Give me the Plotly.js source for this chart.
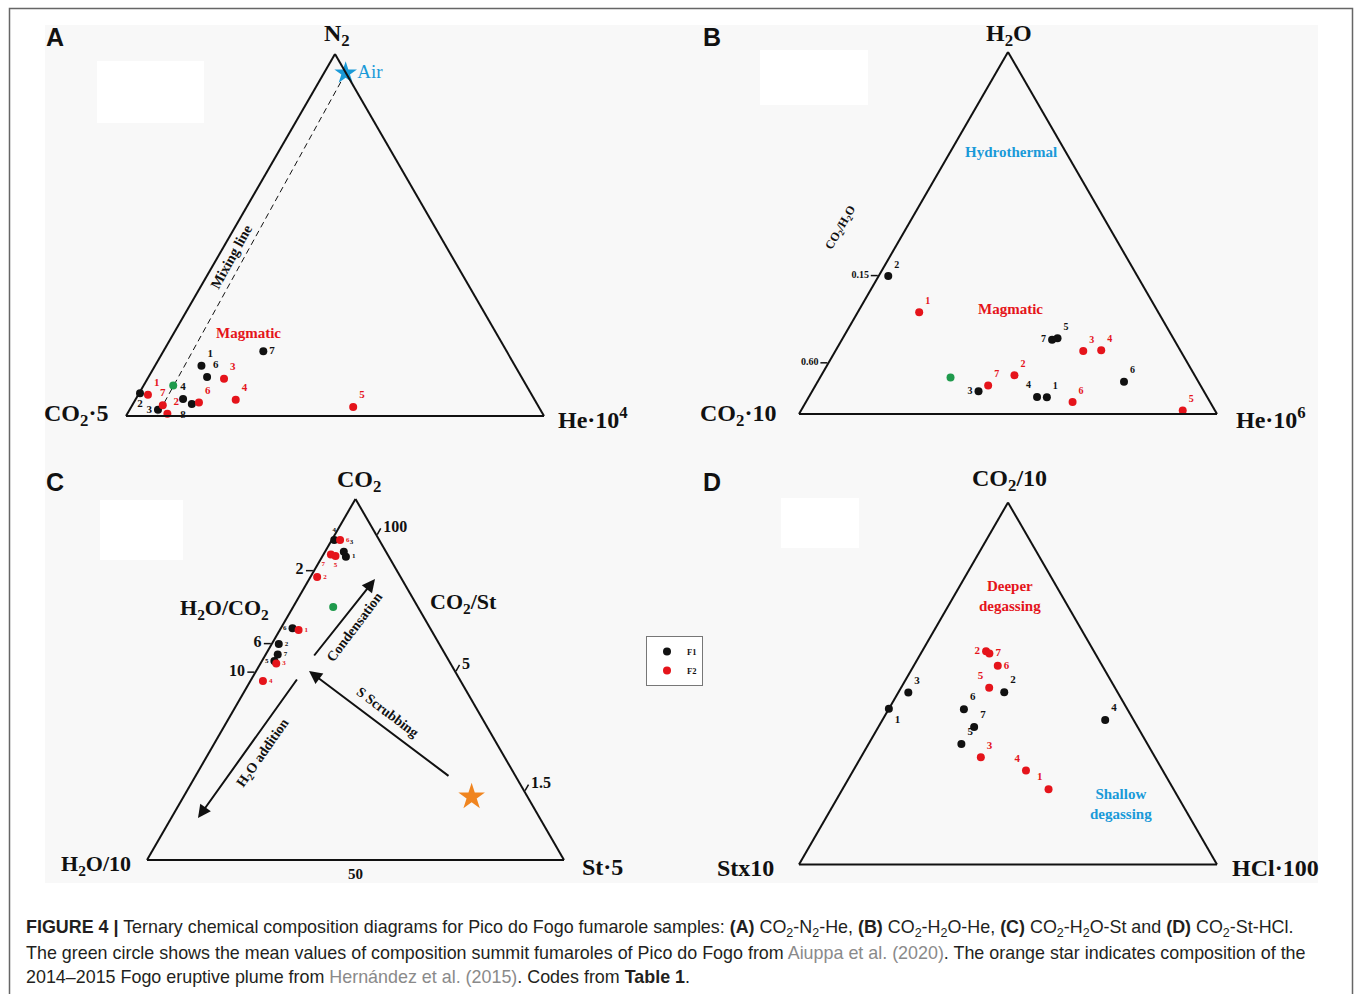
<!DOCTYPE html>
<html><head><meta charset="utf-8">
<script src="https://cdn.plot.ly/plotly-3.0.1.min.js"></script>
<style>html,body{margin:0;padding:0;background:#fff;} #chart{width:1355px;height:994px;}</style>
</head><body><div id="chart"></div>
<script>
// ---------------- DATA (percent of each normalised ternary) ----------------
// Panel A: apex N2, left CO2·5, right He·10^4
const A_F1_code = ['1','2','3','4','6','7','8'];
const A_F1_N2   = [13.9, 6.3, 1.7, 4.7, 10.8, 17.9, 3.3];
const A_F1_CO2  = [75.0, 93.5, 91.5, 84.0, 75.2, 58.2, 82.6];
const A_F1_He   = [11.1, 0.2, 6.8, 11.3, 14.0, 23.9, 14.1];
const A_F2_code = ['1','2','3','4','5','6','7'];
const A_F2_N2   = [5.9, 0.6, 10.3, 4.5, 2.5, 3.7, 3.0];
const A_F2_CO2  = [91.8, 89.8, 71.4, 71.5, 44.4, 80.7, 89.7];
const A_F2_He   = [2.3, 9.6, 18.3, 24.0, 53.1, 15.6, 7.3];
const A_mean_N2 = [8.4], A_mean_CO2 = [84.5], A_mean_He = [7.1];
const A_air_N2 = [94.7], A_air_CO2 = [0.1], A_air_He = [5.2];
const A_mix_N2 = [94.7, 0.0], A_mix_CO2 = [0.1, 92.6], A_mix_He = [5.2, 7.4];

// Panel B: apex H2O, left CO2·10, right He·10^6
const B_F1_code = ['1','2','3','4','5','6','7'];
const B_F1_H2O  = [4.6, 38.1, 6.3, 4.7, 20.9, 8.9, 20.5];
const B_F1_CO2  = [38.4, 59.6, 53.9, 40.7, 27.7, 17.8, 29.2];
const B_F1_He   = [57.0, 2.3, 39.8, 54.6, 51.4, 73.3, 50.3];
const B_F2_code = ['1','2','3','4','5','6','7'];
const B_F2_H2O  = [28.1, 10.7, 17.4, 17.6, 1.0, 3.3, 7.9];
const B_F2_CO2  = [57.2, 43.1, 23.3, 18.9, 7.7, 32.9, 50.8];
const B_F2_He   = [14.7, 46.2, 59.3, 63.5, 91.3, 63.8, 41.3];
const B_mean_H2O = [10.1], B_mean_CO2 = [58.7], B_mean_He = [31.2];
const B_tickVals = [38.1, 14.0];
const B_tickText = ['0.15', '0.60'];

// Panel C: apex CO2, left H2O/10, right St·5
const C_F1_code = ['1','2','3','4','5','6','7'];
const C_F1_CO2  = [84.0, 59.8, 85.4, 88.6, 55.1, 64.2, 56.9];
const C_F1_H2O  = [10.3, 38.5, 10.1, 10.8, 41.9, 33.0, 40.2];
const C_F1_St   = [5.7, 1.7, 4.5, 0.6, 3.0, 2.8, 2.9];
const C_F2_code = ['1','2','3','4','5','6','7'];
const C_F2_CO2  = [63.7, 78.4, 54.4, 49.6, 84.2, 88.6, 84.6];
const C_F2_H2O  = [31.8, 20.0, 41.8, 47.4, 12.7, 9.4, 13.6];
const C_F2_St   = [4.5, 1.6, 3.8, 3.0, 3.1, 2.0, 1.8];
const C_mean_CO2 = [70.1], C_mean_H2O = [20.3], C_mean_St = [9.6];
const C_plume_CO2 = [17.5], C_plume_H2O = [13.4], C_plume_St = [69.1];
const C_aTickVals = [80.0, 59.8, 51.9];   // H2O/CO2 ratios
const C_aTickText = ['2', '6', '10'];
const C_cTickVals = [10.0, 47.8, 80.9];   // CO2/St ratios
const C_cTickText = ['100', '5', '1.5'];
const C_bTickVals = [50];
const C_bTickText = ['50'];

// Panel D: apex CO2/10, left Stx10, right HCl·100
const D_F1_code = ['1','2','3','4','5','6','7'];
const D_F1_CO2  = [43.0, 47.6, 47.5, 39.9, 33.3, 42.9, 38.0];
const D_F1_St   = [57.0, 27.1, 50.1, 6.8, 44.5, 39.1, 39.1];
const D_F1_HCl  = [0.0, 25.3, 2.4, 53.3, 22.2, 18.0, 22.9];
const D_F2_code = ['1','2','3','4','5','6','7'];
const D_F2_CO2  = [20.8, 58.9, 29.6, 26.0, 48.8, 54.9, 58.3];
const D_F2_St   = [29.9, 25.8, 41.7, 32.7, 30.1, 25.0, 25.3];
const D_F2_HCl  = [49.3, 15.3, 28.7, 41.3, 21.1, 20.1, 16.4];

// label placements (style, kept apart from the data)
const A_F1_pos = ['top right','bottom center','middle left','top center','top right','middle right','bottom left'];
const A_F2_pos = ['top right','top right','top right','top right','top right','top right','top center'];
const B_F1_pos = ['top right','top right','middle left','top left','top right','top right','middle left'];
const B_F2_pos = ['top right','top right','top right','top right','top right','top right','top right'];
const C_F1_pos = ['middle right','middle right','top right','top center','middle left','middle left','middle right'];
const C_F2_pos = ['middle right','middle right','middle right','middle right','bottom center','middle right','bottom left'];
const D_F1_pos = ['bottom right','top right','top right','top right','top right','top right','top right'];
const D_F2_pos = ['top left','middle left','top right','top left','top left','middle right','middle right'];

// ---------------- STYLE ----------------
const W = 1355, H = 994;
const BLACK = '#111111', RED = '#e5141b', GREEN = '#1f9a4c', BLUE = '#1a9ad8', ORANGE = '#f08520';
const SERIF = 'Liberation Serif, Times New Roman, serif';
const SANS = 'Liberation Sans, Arial, sans-serif';

function X(x){ return x / W; }
function Y(y){ return 1 - y / H; }
function dom(xl, xr, yc){ return {x:[xl/W, xr/W], y:[1-(yc+190)/H, 1-(yc-190)/H]}; }

function pts(sub, a, b, c, codes, color, pos, labelSize, name, showlegend){
  return {type:'scatterternary', subplot:sub, mode:'markers+text', a:a, b:b, c:c,
    text:codes, textposition:pos, cliponaxis:false, hoverinfo:'skip',
    textfont:{family:SERIF, size:labelSize, color:color, weight:'bold'},
    marker:{color:color, size:8, line:{width:0}},
    name:name, legendgroup:name, showlegend:!!showlegend};
}
function single(sub, a, b, c, color, symbol, size){
  return {type:'scatterternary', subplot:sub, mode:'markers', a:a, b:b, c:c, cliponaxis:false,
    hoverinfo:'skip', showlegend:false, marker:{color:color, size:size, symbol:symbol, line:{width:0}}};
}

const traces = [
  // A
  {type:'scatterternary', subplot:'ternary', mode:'lines', a:A_mix_N2, b:A_mix_CO2, c:A_mix_He,
   line:{color:BLACK, width:1, dash:'6px,4px'}, hoverinfo:'skip', showlegend:false, cliponaxis:false},
  pts('ternary', A_F1_N2, A_F1_CO2, A_F1_He, A_F1_code, BLACK, A_F1_pos, 11, 'F1', true),
  pts('ternary', A_F2_N2, A_F2_CO2, A_F2_He, A_F2_code, RED, A_F2_pos, 11, 'F2', true),
  single('ternary', A_mean_N2, A_mean_CO2, A_mean_He, GREEN, 'circle', 8),
  {type:'scatterternary', subplot:'ternary', mode:'markers+text', a:A_air_N2, b:A_air_CO2, c:A_air_He,
   text:['Air'], textposition:'middle right', cliponaxis:false, hoverinfo:'skip', showlegend:false,
   textfont:{family:SERIF, size:19, color:BLUE}, marker:{color:BLUE, size:17, symbol:'star', line:{width:0}}},
  // B
  pts('ternary2', B_F1_H2O, B_F1_CO2, B_F1_He, B_F1_code, BLACK, B_F1_pos, 10, 'F1', false),
  pts('ternary2', B_F2_H2O, B_F2_CO2, B_F2_He, B_F2_code, RED, B_F2_pos, 10, 'F2', false),
  single('ternary2', B_mean_H2O, B_mean_CO2, B_mean_He, GREEN, 'circle', 8),
  // C
  pts('ternary3', C_F1_CO2, C_F1_H2O, C_F1_St, C_F1_code, BLACK, C_F1_pos, 7, 'F1', false),
  pts('ternary3', C_F2_CO2, C_F2_H2O, C_F2_St, C_F2_code, RED, C_F2_pos, 7, 'F2', false),
  single('ternary3', C_mean_CO2, C_mean_H2O, C_mean_St, GREEN, 'circle', 8),
  single('ternary3', C_plume_CO2, C_plume_H2O, C_plume_St, ORANGE, 'star', 20),
  // D
  pts('ternary4', D_F1_CO2, D_F1_St, D_F1_HCl, D_F1_code, BLACK, D_F1_pos, 11, 'F1', false),
  pts('ternary4', D_F2_CO2, D_F2_St, D_F2_HCl, D_F2_code, RED, D_F2_pos, 11, 'F2', false)
];

function ax(extra){
  return Object.assign({showgrid:false, showline:true, linecolor:BLACK, linewidth:2, ticks:'',
    showticklabels:false, title:{text:''}, min:0, layer:'above traces'}, extra || {});
}
function tickAx(vals, text, size){
  return ax({tickmode:'array', tickvals:vals, ticktext:text, ticks:'outside', ticklen:7, tickwidth:1.5,
    tickcolor:BLACK, showticklabels:true, tickfont:{family:SERIF, size:size, color:BLACK, weight:'bold'}});
}
function tern(d, a, b, c){ return {domain:d, sum:100, bgcolor:'rgba(0,0,0,0)', aaxis:a, baxis:b, caxis:c}; }

function T(x, y, text, size, color, extra){
  return Object.assign({xref:'paper', yref:'paper', x:X(x), y:Y(y), text:text, showarrow:false,
    xanchor:'center', yanchor:'middle', font:{family:SERIF, size:size, color:color||BLACK}}, extra || {});
}
function arrow(hx, hy, tx, ty){
  return {xref:'paper', yref:'paper', x:X(hx), y:Y(hy), ax:tx-hx, ay:ty-hy, text:'', showarrow:true,
    arrowhead:2, arrowsize:1.3, arrowwidth:2, arrowcolor:BLACK};
}
function cap(y, text){
  return {xref:'paper', yref:'paper', x:X(24), y:Y(y), text:text, showarrow:false, xanchor:'left',
    yanchor:'middle', align:'left', font:{family:SANS, size:17.9, color:'#231f20'}};
}
const GREY = '#8a8a8a';

const annotations = [
  T(55, 37, '<b>A</b>', 25, BLACK, {font:{family:SANS, size:25, color:BLACK}}),
  T(712, 37, '<b>B</b>', 25, BLACK, {font:{family:SANS, size:25, color:BLACK}}),
  T(55, 482, '<b>C</b>', 25, BLACK, {font:{family:SANS, size:25, color:BLACK}}),
  T(712, 482, '<b>D</b>', 25, BLACK, {font:{family:SANS, size:25, color:BLACK}}),
  // vertex labels
  T(337, 35, '<b>N<sub>2</sub></b>', 24),
  T(76, 415, '<b>CO<sub>2</sub>·5</b>', 24),
  T(593, 418, '<b>He·10<sup>4</sup></b>', 24),
  T(1009, 35, '<b>H<sub>2</sub>O</b>', 24),
  T(738, 415, '<b>CO<sub>2</sub>·10</b>', 24),
  T(1271, 418, '<b>He·10<sup>6</sup></b>', 24),
  T(359, 481, '<b>CO<sub>2</sub></b>', 24),
  T(96, 865, '<b>H<sub>2</sub>O/10</b>', 22),
  T(602, 867, '<b>St·5</b>', 24),
  T(1009, 480, '<b>CO<sub>2</sub>/10</b>', 24),
  T(745, 868, '<b>Stx10</b>', 24),
  T(1275, 868, '<b>HCl·100</b>', 24),
  T(224, 609, '<b>H<sub>2</sub>O/CO<sub>2</sub></b>', 22),
  T(463, 603, '<b>CO<sub>2</sub>/St</b>', 22),
  // panel A texts
  T(231, 257, '<b>Mixing line</b>', 14.5, BLACK, {textangle:-61}),
  T(248, 333, '<b>Magmatic</b>', 15, RED),
  // panel B texts
  T(1011, 152, '<b>Hydrothermal</b>', 15, BLUE),
  T(1010, 309, '<b>Magmatic</b>', 15, RED),
  T(841, 228, '<b>CO<sub>2</sub>/H<sub>2</sub>O</b>', 12, BLACK, {textangle:-60}),
  // panel C texts and arrows
  arrow(375, 579, 313, 657),
  arrow(309, 671, 450, 777),
  arrow(198, 818, 298, 678),
  T(354, 627, '<b>Condensation</b>', 14, BLACK, {textangle:-53}),
  T(388, 712, '<b>S Scrubbing</b>', 14, BLACK, {textangle:37}),
  T(263, 753, '<b>H<sub>2</sub>O addition</b>', 14, BLACK, {textangle:-55}),
  // panel D texts
  T(1010, 596, '<b>Deeper<br>degassing</b>', 15, RED),
  T(1121, 804, '<b>Shallow<br>degassing</b>', 15, BLUE),
  // caption
  cap(928, '<b>FIGURE 4 |</b> Ternary chemical composition diagrams for Pico do Fogo fumarole samples: <b>(A)</b> CO<sub>2</sub>-N<sub>2</sub>-He, <b>(B)</b> CO<sub>2</sub>-H<sub>2</sub>O-He, <b>(C)</b> CO<sub>2</sub>-H<sub>2</sub>O-St and <b>(D)</b> CO<sub>2</sub>-St-HCl.'),
  cap(953, 'The green circle shows the mean values of composition summit fumaroles of Pico do Fogo from <span style="color:' + GREY + '">Aiuppa et al. (2020)</span>. The orange star indicates composition of the'),
  cap(977, '2014–2015 Fogo eruptive plume from <span style="color:' + GREY + '">Hernández et al. (2015)</span>. Codes from <b>Table 1</b>.')
];

const shapes = [
  {type:'rect', xref:'paper', yref:'paper', x0:X(45), x1:X(1318), y0:Y(25), y1:Y(883), fillcolor:'#f8f8f8', line:{width:0}, layer:'below'},
  {type:'rect', xref:'paper', yref:'paper', x0:X(97), x1:X(204), y0:Y(61), y1:Y(123), fillcolor:'#ffffff', line:{width:0}, layer:'below'},
  {type:'rect', xref:'paper', yref:'paper', x0:X(760), x1:X(868), y0:Y(50), y1:Y(105), fillcolor:'#ffffff', line:{width:0}, layer:'below'},
  {type:'rect', xref:'paper', yref:'paper', x0:X(100), x1:X(183), y0:Y(500), y1:Y(560), fillcolor:'#ffffff', line:{width:0}, layer:'below'},
  {type:'rect', xref:'paper', yref:'paper', x0:X(781), x1:X(859), y0:Y(498), y1:Y(548), fillcolor:'#ffffff', line:{width:0}, layer:'below'},
  {type:'rect', xref:'paper', yref:'paper', x0:X(9.5), x1:X(1352.5), y0:Y(8.5), y1:Y(1010), fillcolor:'rgba(0,0,0,0)', line:{width:1.5, color:'#666666'}, layer:'below'}
];

const layout = {
  width:W, height:H, autosize:false, margin:{l:0, r:0, t:0, b:0},
  paper_bgcolor:'#ffffff', plot_bgcolor:'rgba(0,0,0,0)',
  font:{family:SERIF, color:BLACK},
  ternary:  tern(dom(126, 544, 235), ax(), ax(), ax()),
  ternary2: tern(dom(799, 1217, 233), tickAx(B_tickVals, B_tickText, 10), ax(), ax()),
  ternary3: tern(dom(147, 564, 679.5), tickAx(C_aTickVals, C_aTickText, 16),
                 Object.assign(tickAx(C_bTickVals, C_bTickText, 15), {ticks:''}),
                 tickAx(C_cTickVals, C_cTickText, 16)),
  ternary4: tern(dom(799, 1217, 683.5), ax(), ax(), ax()),
  showlegend:true,
  legend:{x:X(646), y:Y(636), xanchor:'left', yanchor:'top', bgcolor:'#ffffff', bordercolor:'#777777',
    borderwidth:1, font:{family:SERIF, size:8.5, color:BLACK, weight:'bold'}, itemwidth:30, tracegroupgap:0, itemsizing:'trace'},
  shapes:shapes, annotations:annotations
};

Plotly.newPlot('chart', traces, layout, {displayModeBar:false, staticPlot:true});
</script></body></html>
